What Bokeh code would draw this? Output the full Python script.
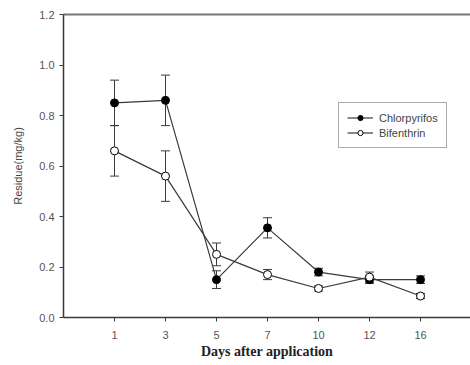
from bokeh.plotting import figure
from bokeh.models import (ColumnDataSource, Whisker, TeeHead, Legend, LegendItem,
                          FixedTicker, Range1d, NumeralTickFormatter, LinearAxis)
from bokeh.embed import file_html
from bokeh.resources import INLINE

days = ["1", "3", "5", "7", "10", "12", "16"]
chlorpyrifos = [0.85, 0.86, 0.15, 0.355, 0.18, 0.15, 0.15]
chlorpyrifos_err = [0.09, 0.10, 0.035, 0.04, 0.015, 0.015, 0.015]
bifenthrin = [0.66, 0.56, 0.25, 0.17, 0.115, 0.16, 0.085]
bifenthrin_err = [0.10, 0.10, 0.045, 0.02, 0.01, 0.02, 0.01]
y_ticks = [0.0, 0.2, 0.4, 0.6, 0.8, 1.0, 1.2]

pos = list(range(1, len(days) + 1))
line_col = "#3a3a3a"
text_col = "#555555"

src_c = ColumnDataSource(dict(x=pos, y=chlorpyrifos,
                              lo=[v - e for v, e in zip(chlorpyrifos, chlorpyrifos_err)],
                              hi=[v + e for v, e in zip(chlorpyrifos, chlorpyrifos_err)]))
src_b = ColumnDataSource(dict(x=pos, y=bifenthrin,
                              lo=[v - e for v, e in zip(bifenthrin, bifenthrin_err)],
                              hi=[v + e for v, e in zip(bifenthrin, bifenthrin_err)]))

W, H = 470, 365
L, T, B = 63, 14, 48
frame_w = W - L
p = figure(width=W, height=H, output_backend="svg", toolbar_location=None,
           x_range=Range1d(0, frame_w / 51.0), y_range=Range1d(0, 1.2),
           min_border_left=L, min_border_right=0, min_border_top=T, min_border_bottom=B)
p.outline_line_color = None
p.grid.visible = False
p.background_fill_color = "white"
p.border_fill_color = "white"

# top frame line
top = LinearAxis(major_tick_line_color=None, minor_tick_line_color=None,
                 major_label_text_font_size="0px", axis_line_color="#777777",
                 axis_line_width=2, major_tick_out=0, major_tick_in=0,
                 major_label_standoff=0)
top.major_label_text_alpha = 0
p.add_layout(top, "above")

# error bars
for src in (src_c, src_b):
    w = Whisker(source=src, base="x", lower="lo", upper="hi",
                line_color=line_col, line_width=1,
                upper_head=TeeHead(size=9, line_color=line_col, line_width=1),
                lower_head=TeeHead(size=9, line_color=line_col, line_width=1))
    p.add_layout(w)

lc = p.line("x", "y", source=src_c, line_color=line_col, line_width=1.2)
sc = p.scatter("x", "y", source=src_c, size=8, fill_color="black", line_color="black")
lb = p.line("x", "y", source=src_b, line_color=line_col, line_width=1.2)
sb = p.scatter("x", "y", source=src_b, size=8, fill_color="white", line_color="black", line_width=1)

# axes
xa = p.below[0]
xa.ticker = FixedTicker(ticks=pos)
xa.major_label_overrides = {i: d for i, d in zip(pos, days)}
xa.minor_tick_line_color = None
xa.major_tick_in = 0
xa.major_tick_out = 4
xa.axis_line_color = line_col
xa.axis_line_width = 1.5
xa.major_tick_line_color = line_col
xa.major_label_text_font = "Liberation Sans"
xa.major_label_text_font_size = "11px"
xa.major_label_text_color = text_col
xa.major_label_standoff = 9
xa.axis_label = "Days after application"
xa.axis_label_text_font = "Liberation Serif"
xa.axis_label_text_font_style = "bold"
xa.axis_label_text_font_size = "14px"
xa.axis_label_text_color = "#222222"
xa.axis_label_standoff = 2

ya = p.left[0]
ya.ticker = FixedTicker(ticks=y_ticks)
ya.formatter = NumeralTickFormatter(format="0.0")
ya.minor_tick_line_color = None
ya.major_tick_in = 0
ya.major_tick_out = 4
ya.axis_line_color = line_col
ya.axis_line_width = 1.5
ya.major_tick_line_color = line_col
ya.major_label_text_font = "Liberation Sans"
ya.major_label_text_font_size = "11px"
ya.major_label_text_color = text_col
ya.major_label_standoff = 5
ya.axis_label = "Residue(mg/kg)"
ya.axis_label_text_font = "Liberation Sans"
ya.axis_label_text_font_style = "normal"
ya.axis_label_text_font_size = "11px"
ya.axis_label_text_color = "#444444"
ya.axis_label_standoff = 12

legend = Legend(items=[LegendItem(label="Chlorpyrifos", renderers=[lc, sc]),
                       LegendItem(label="Bifenthrin", renderers=[lb, sb])],
                location=(338 - L, (H - B) - 148), orientation="vertical",
                label_text_font="Liberation Sans", label_text_font_size="11px",
                label_text_color="#444444",
                border_line_color="#555555", border_line_width=1,
                glyph_width=26, glyph_height=13, label_height=13,
                padding=8, spacing=2, margin=0, label_standoff=6,
                background_fill_alpha=1)
p.add_layout(legend, "center")

open("out.html", "w").write(file_html(p, INLINE))
